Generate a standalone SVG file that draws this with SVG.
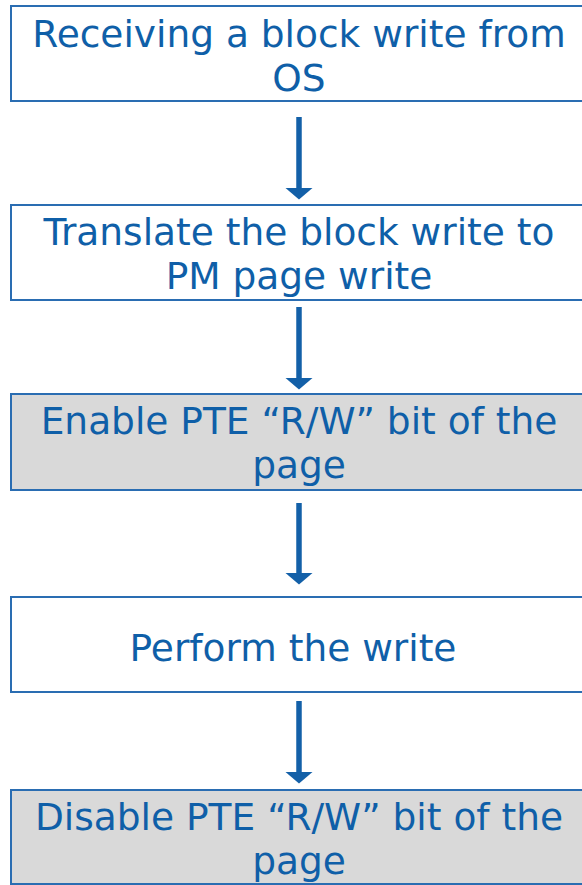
<svg xmlns="http://www.w3.org/2000/svg" width="582" height="885" viewBox="0 0 582 885">
  <style>
    .box { fill: #ffffff; stroke: #2a6db2; stroke-width: 2; }
    .box.shaded { fill: #d9d9d9; }
    .label { font-family: "DejaVu Sans", Verdana, sans-serif; font-size: 37.5px; fill: #0f5fa8; text-anchor: middle; }
    .flow { stroke: #1360a8; stroke-width: 5.5; fill: none; }
  </style>
  <defs>
    <marker id="arrowhead" markerUnits="userSpaceOnUse" markerWidth="12" markerHeight="28" refX="0" refY="0" viewBox="0 -14 12 28" orient="auto">
      <path d="M0,-13.5 L11.5,0 L0,13.5 Z" fill="#1360a8"/>
    </marker>
  </defs>

  <g id="node-receive">
    <rect class="box" x="11" y="6" width="580" height="95"/>
    <text class="label" x="299" y="47">Receiving a block write from</text>
    <text class="label" x="299" y="91">OS</text>
  </g>

  <g id="node-translate">
    <rect class="box" x="11" y="205" width="580" height="95"/>
    <text class="label" x="299" y="245">Translate the block write to</text>
    <text class="label" x="299" y="289">PM page write</text>
  </g>

  <g id="node-enable">
    <rect class="box shaded" x="11" y="394" width="580" height="96"/>
    <text class="label" x="299" y="434">Enable PTE “R/W” bit of the</text>
    <text class="label" x="299" y="478">page</text>
  </g>

  <g id="node-perform">
    <rect class="box" x="11" y="597" width="580" height="95"/>
    <text class="label" x="293" y="661">Perform the write</text>
  </g>

  <g id="node-disable">
    <rect class="box shaded" x="11" y="790" width="580" height="94"/>
    <text class="label" x="299" y="830">Disable PTE “R/W” bit of the</text>
    <text class="label" x="299" y="874">page</text>
  </g>

  <g id="connectors">
    <line class="flow" x1="299" y1="117" x2="299" y2="188" marker-end="url(#arrowhead)"/>
    <line class="flow" x1="299" y1="307" x2="299" y2="378" marker-end="url(#arrowhead)"/>
    <line class="flow" x1="299" y1="503" x2="299" y2="573" marker-end="url(#arrowhead)"/>
    <line class="flow" x1="299" y1="701" x2="299" y2="772" marker-end="url(#arrowhead)"/>
  </g>
</svg>
